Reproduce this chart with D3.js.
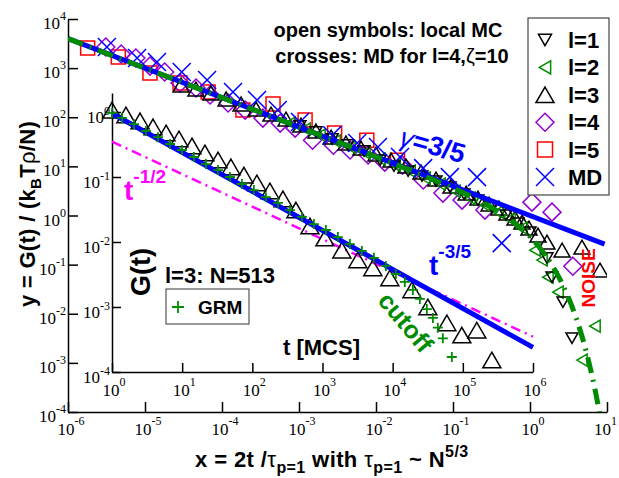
<!DOCTYPE html>
<html><head><meta charset="utf-8">
<script src="https://cdn.jsdelivr.net/npm/d3@7"></script>
<style>body{margin:0;background:#fff}svg{display:block}</style>
</head><body><svg id="c" width="619" height="478"></svg>
<script>
// ---------- data ----------
const mainXTicks = [1e-6,1e-5,1e-4,1e-3,1e-2,1e-1,1,10];
const mainXExp = ['-6','-5','-4','-3','-2','-1','0','1'];
const mainYTicks = [1e-4,1e-3,1e-2,1e-1,1,10,100,1e3,1e4];
const mainYExp = ['-4','-3','-2','-1','0','1','2','3','4'];
const insetXTicks = [1,10,100,1e3,1e4,1e5,1e6];
const insetXExp = ['0','1','2','3','4','5','6'];
const insetYTicks = [1e-4,1e-3,1e-2,1e-1,1];
const insetYExp = ['-4','-3','-2','-1','0'];

const l1X = [1.03e-3,1.66e-3,2.69e-3,4.32e-3,6.98e-3,0.0113,0.0171,0.0261,0.0395,0.0601,0.0914,0.139,0.211,0.321,0.488,0.698,1.0,1.66,1.93,2.68,3.51];
const l1Y = [66.2,50,36,27.2,20.5,13.4,10.1,8.02,6.34,5.02,3.78,2.73,2.06,1.48,1.02,0.70,0.459,0.136,0.0556,0.0172,0.00318];
const l2X = [7.64e-4,1.2e-3,1.87e-3,2.94e-3,4.59e-3,7.19e-3,0.0113,0.0177,0.0277,0.0433,0.0678,0.106,0.166,0.261,0.384,0.55,0.787,1.16,1.43,1.71,2.31,4.73,6.98];
const l2Y = [76.2,57.5,43.4,32.7,24.7,18.7,14.1,10.6,8.02,5.78,4.37,3.14,2.26,1.63,1.17,0.845,0.553,0.197,0.124,0.0556,0.0275,0.00114,0.00559];
const l3X = [2.94e-5,4.59e-5,7.19e-5,1.13e-4,1.77e-4,2.77e-4,4.33e-4,6.77e-4,1.06e-3,1.66e-3,2.61e-3,4.07e-3,6.38e-3,0.01,0.0157,0.0245,0.0384,0.0601,0.0942,0.148,0.211,0.294,0.395,0.502,0.638,0.787,0.97,1.27,1.66,2.61,4.73,8.11];
const l3Y = [453,375,311,235,186,147,116,91.8,69.3,52.4,39.5,29.9,23.6,17.8,13.4,10.1,7.66,5.51,3.97,2.86,2.26,1.71,1.42,1.12,0.885,0.734,0.553,0.399,0.287,0.197,0.227,0.0773];
const l4X = [3.1e-6,4.9e-6,7.6e-6,1.16e-5,1.8e-5,2.85e-5,4.6e-5,7.0e-5,1.2e-4,2.0e-4,3.4e-4,5.7e-4,8.9e-4,1.5e-3,2.8e-3,4.6e-3,7.9e-3,1.3e-2,2.2e-2,4.1e-2,7.4e-2,0.131,0.26,1.06,1.93,3.6];
const l4Y = [2690,1940,1610,1100,834,498,394,283,195,140,96,76,60,34,27,21.5,17,12.2,10.6,5.3,2.86,2.06,1.29,1.87,1.17,0.093];
const l5X = [1.8e-6,4.5e-6,1.16e-5,2.85e-5,6.6e-5,1.87e-4,4.6e-4,1.2e-3,2.9e-3,7.6e-3,1.9e-2];
const l5Y = [2560,1680,800,500,326,140,186,88,48,34,13.4];
const mdX = [3.2e-6,7.9e-6,1.43e-5,3.0e-5,6.4e-5,1.39e-4,2.85e-4,5.3e-4,1.03e-3,2.7e-3,5.7e-3,1.06e-2,2.05e-2,4.1e-2,9.1e-2,0.205,0.43];
const mdY = [2690,1610,1330,834,573,326,224,140,80,43,30,24.7,15.5,9.2,6.05,6.05,0.274];

const powX = [1e-6, 9.3];
const powY = [3981, 0.262];
const cutX = [1e-6,1e-4,1e-2,0.05,0.1,0.2,0.4,0.7,1,1.5,2,3,4,5,6,7,8];
const cutY = [3981,251,15.7,5.74,3.60,2.15,1.16,0.615,0.368,0.175,0.0893,0.0257,0.00797,0.00257,0.000845,0.000284,0.0000963];

const inPowX = [1, 1e6];
const inPowY = [0.95, 2.39e-4];
const inHalfX = [1, 1e6];
const inHalfY = [0.35, 3.5e-4];
const grmT = [1,1.39,2.06,3.05,4.52,6.7,9.9,14.7,21.8,32.4,48,71,105,156,232,343,509,754,1117,1656,2455,3640,5400,8000,11100,14900,19400,24400,30700,37400,44000,51900,69700];
const grmG = [0.966,0.81,0.65,0.51,0.41,0.322,0.26,0.203,0.158,0.128,0.1,0.078,0.063,0.049,0.040,0.031,0.0243,0.0189,0.0153,0.0119,0.0093,0.0073,0.0057,0.00428,0.00322,0.00243,0.00183,0.00133,0.00093,0.00068,0.00048,0.00033,0.00017];
const in3T = [1,1.58,2.51,3.84,5.9,9.0,13.8,21.1,32.4,49.5,75.9,116,178,273,418,662,1082,1888,3190,5220,9120,18800,31700,59200,96800,158000,259000];
const in3G = [1.07,0.90,0.73,0.59,0.475,0.385,0.30,0.234,0.183,0.143,0.107,0.081,0.061,0.046,0.031,0.0176,0.0115,0.0075,0.0053,0.004,0.0028,0.00183,0.001,0.00057,0.00037,0.00044,0.000153];

const legendLabels = ['l=1','l=2','l=3','l=4','l=5','MD'];

// ---------- setup ----------
const SANS = '"Liberation Sans", Arial, Helvetica, sans-serif';
const SERIF = '"Liberation Serif", "Times New Roman", serif';
const BLUE = '#0000ff', GREEN = '#008c00', RED = '#ff0000', PURPLE = '#9400d3', MAG = '#ff00ff';
const svg = d3.select('#c');

const x = d3.scaleLog().domain([1e-6, 10]).range([68, 607]);
const y = d3.scaleLog().domain([1e-4, 1e4]).range([412, 19]);
const ix = d3.scaleLog().domain([1, 1e6]).range([112, 533]);
const iy = d3.scaleLog().domain([1e-4, 1.96]).range([372, 93]);

function symPath(type, s) {
  const r = s / 2, h = s * 0.866;
  switch (type) {
    case 'up': return `M0,${-h/2}L${r},${h/2}L${-r},${h/2}Z`;
    case 'down': return `M0,${h/2}L${r},${-h/2}L${-r},${-h/2}Z`;
    case 'left': return `M${-h/2},0L${h/2},${-r}L${h/2},${r}Z`;
    case 'diamond': return `M0,${-r}L${r},0L0,${r}L${-r},0Z`;
    case 'square': return `M${-r},${-r}H${r}V${r}H${-r}Z`;
    case 'x': return `M${-r},${-r}L${r},${r}M${-r},${r}L${r},${-r}`;
    case 'plus': return `M${-r},0H${r}M0,${-r}V${r}`;
  }
}
function drawSeries(g, xs, ys, sx, sy, type, size, color, sw) {
  g.append('g').selectAll('path').data(xs.map((v, i) => [v, ys[i]])).join('path')
    .attr('d', symPath(type, size))
    .attr('transform', d => `translate(${sx(d[0])},${sy(d[1])})`)
    .attr('fill', 'none').attr('stroke', color).attr('stroke-width', sw || 1.5);
}

svg.append('defs').append('clipPath').attr('id', 'mclip')
  .append('rect').attr('x', 68).attr('y', 19).attr('width', 539).attr('height', 393);

// ---------- main axes ----------
function styleAxis(g) {
  g.selectAll('path.domain').attr('stroke', '#000').attr('stroke-width', 1.5);
  g.selectAll('.tick line').attr('stroke', '#000').attr('stroke-width', 1.5);
  g.selectAll('.tick text').remove();
}
const gx = svg.append('g').attr('transform', 'translate(0,412)')
  .call(d3.axisBottom(x).tickValues(mainXTicks).tickSizeInner(-10).tickSizeOuter(0).tickFormat(''));
styleAxis(gx);
const gy = svg.append('g').attr('transform', 'translate(68,0)')
  .call(d3.axisLeft(y).tickValues(mainYTicks).tickSizeInner(-10).tickSizeOuter(0).tickFormat(''));
styleAxis(gy);

function expLabel(px, py, exp, anchor, supDy) {
  const t = svg.append('text').attr('x', px).attr('y', py).attr('text-anchor', anchor)
    .style('font-family', SERIF).style('font-size', '17px').attr('fill', '#000');
  t.append('tspan').text('10');
  t.append('tspan').attr('dy', supDy).style('font-size', '12px').text(exp);
}
mainXTicks.forEach((v, i) => {
  const last = i === mainXTicks.length - 1;
  expLabel(last ? 617 : x(v) + 3, 435, mainXExp[i], last ? 'end' : 'middle', -10);
});
mainYTicks.forEach((v, i) => expLabel(66, y(v) + 10, mainYExp[i], 'end', -9));

// ---------- inset axes ----------
const gix = svg.append('g').attr('transform', 'translate(0,372)')
  .call(d3.axisBottom(ix).tickValues(insetXTicks).tickSizeInner(-9).tickSizeOuter(0).tickFormat(''));
styleAxis(gix);
const giy = svg.append('g').attr('transform', 'translate(112,0)')
  .call(d3.axisLeft(iy).tickValues(insetYTicks).tickSizeInner(-9).tickSizeOuter(0).tickFormat(''));
styleAxis(giy);
insetXTicks.forEach((v, i) => expLabel(ix(v) + 2, 396, insetXExp[i], 'middle', -10));
insetYTicks.forEach((v, i) => expLabel(110, iy(v) + 11, insetYExp[i], 'end', -8));

// ---------- main data ----------
const gm = svg.append('g').attr('clip-path', 'url(#mclip)');
drawSeries(gm, l5X, l5Y, x, y, 'square', 14, RED);
drawSeries(gm, l4X, l4Y, x, y, 'diamond', 18, PURPLE);
drawSeries(gm, l3X, l3Y, x, y, 'up', 16, '#000');
drawSeries(gm, l2X, l2Y, x, y, 'left', 12, GREEN);
drawSeries(gm, l1X, l1Y, x, y, 'down', 12, '#000');
drawSeries(gm, mdX, mdY, x, y, 'x', 18, BLUE);

const lineMain = d3.line().x(d => x(d[0])).y(d => y(d[1]));
gm.append('path').datum(powX.map((v, i) => [v, powY[i]])).attr('d', lineMain)
  .attr('fill', 'none').attr('stroke', BLUE).attr('stroke-width', 5);
gm.append('path').datum(cutX.map((v, i) => [v, cutY[i]]))
  .attr('d', d3.line().x(d => x(d[0])).y(d => y(d[1])).curve(d3.curveMonotoneX))
  .attr('fill', 'none').attr('stroke', GREEN).attr('stroke-width', 5)
  .attr('stroke-dasharray', '16,7,2,7');

// ---------- inset data ----------
const lineIn = d3.line().x(d => ix(d[0])).y(d => iy(d[1]));
svg.append('path').datum(inHalfX.map((v, i) => [v, inHalfY[i]])).attr('d', lineIn)
  .attr('fill', 'none').attr('stroke', MAG).attr('stroke-width', 2.5).attr('stroke-dasharray', '10,5,2,5');
drawSeries(svg, in3T, in3G, ix, iy, 'up', 18, '#000');
svg.append('path').datum(inPowX.map((v, i) => [v, inPowY[i]])).attr('d', lineIn)
  .attr('fill', 'none').attr('stroke', BLUE).attr('stroke-width', 5);
drawSeries(svg, grmT, grmG, ix, iy, 'plus', 10, GREEN, 1.8);

// ---------- texts ----------
function txt(px, py, s, size, color, anchor) {
  return svg.append('text').attr('x', px).attr('y', py).text(s)
    .style('font-family', SANS).style('font-weight', 'bold').style('font-size', size + 'px')
    .attr('fill', color || '#000').attr('text-anchor', anchor || 'start');
}
txt(388, 37, 'open symbols: local MC', 20, '#000', 'middle');
const t2 = svg.append('text').attr('x', 392).attr('y', 63).attr('text-anchor', 'middle')
  .style('font-family', SANS).style('font-weight', 'bold').style('font-size', '20px');
t2.append('tspan').text('crosses: MD for l=4,');
t2.append('tspan').style('font-weight', 'normal').text('ζ');
t2.append('tspan').text('=10');

// legend
svg.append('rect').attr('x', 528).attr('y', 18).attr('width', 81).attr('height', 177)
  .attr('fill', '#fff').attr('stroke', '#444').attr('stroke-width', 1.2);
const legSym = [['down', 13, '#000'], ['left', 13, GREEN], ['up', 18, '#000'], ['diamond', 18, PURPLE], ['square', 15, RED], ['x', 18, BLUE]];
legendLabels.forEach((lab, i) => {
  const cy = 40 + i * 27.4;
  svg.append('path').attr('d', symPath(legSym[i][0], legSym[i][1]))
    .attr('transform', `translate(545,${cy})`).attr('fill', 'none')
    .attr('stroke', legSym[i][2]).attr('stroke-width', 1.5);
  txt(568, cy + 8, lab, 22, '#000', 'start');
});

// gamma label
const tg = svg.append('text').attr('transform', 'translate(398,145) rotate(16)')
  .style('font-family', SANS).style('font-weight', 'bold').style('font-size', '27px').attr('fill', BLUE);
tg.append('tspan').style('font-weight', 'normal').style('font-style', 'italic').text('γ');
tg.append('tspan').text('=3/5');

// t^-1/2
const th = svg.append('text').attr('x', 124).attr('y', 200)
  .style('font-family', SANS).style('font-weight', 'bold').style('font-size', '28px').attr('fill', MAG);
th.append('tspan').text('t');
th.append('tspan').attr('dy', -17).style('font-size', '19px').text('-1/2');
// t^-3/5
const tf = svg.append('text').attr('x', 429).attr('y', 275)
  .style('font-family', SANS).style('font-weight', 'bold').style('font-size', '28px').attr('fill', BLUE);
tf.append('tspan').text('t');
tf.append('tspan').attr('dy', -17).style('font-size', '19px').text('-3/5');

// cutoff
svg.append('text').attr('transform', 'translate(406,322) rotate(50)').attr('text-anchor', 'middle')
  .attr('dominant-baseline', 'central')
  .style('font-family', SANS).style('font-weight', 'bold').style('font-size', '25px').attr('fill', GREEN).text('cutoff');
// NOISE
svg.append('text').attr('transform', 'translate(588,278) rotate(-90)').attr('text-anchor', 'middle')
  .attr('dominant-baseline', 'central')
  .style('font-family', SANS).style('font-weight', 'bold').style('font-size', '19px').attr('fill', RED).text('NOISE');

// inset labels
svg.append('text').attr('transform', 'translate(150,272) rotate(-90)').attr('text-anchor', 'middle')
  .style('font-family', SANS).style('font-weight', 'bold').style('font-size', '27px').text('G(t)');
txt(283, 355, 't [MCS]', 22, '#000', 'start');
txt(165, 283, 'l=3: N=513', 22, '#000', 'start');
svg.append('rect').attr('x', 166).attr('y', 289).attr('width', 83).attr('height', 35)
  .attr('fill', 'none').attr('stroke', '#555').attr('stroke-width', 1.2);
svg.append('path').attr('d', symPath('plus', 12)).attr('transform', 'translate(178,307)')
  .attr('stroke', GREEN).attr('stroke-width', 1.8).attr('fill', 'none');
txt(198, 314, 'GRM', 19, '#000', 'start');

// axis titles
const xl = svg.append('text').attr('x', 195).attr('y', 467)
  .style('font-family', SANS).style('font-weight', 'bold').style('font-size', '22px').style('letter-spacing', '0.4px');
xl.append('tspan').text('x = 2t /');
xl.append('tspan').style('font-weight', 'normal').text('τ');
xl.append('tspan').attr('dy', 6).style('font-size', '16px').text('p=1');
xl.append('tspan').attr('dy', -6).text(' with ');
xl.append('tspan').style('font-weight', 'normal').text('τ');
xl.append('tspan').attr('dy', 6).style('font-size', '16px').text('p=1');
xl.append('tspan').attr('dy', -6).text(' ~ N');
xl.append('tspan').attr('dy', -10).style('font-size', '16px').text('5/3');

const yl = svg.append('text').attr('transform', 'translate(35,214) rotate(-90)').attr('text-anchor', 'middle')
  .style('font-family', SANS).style('font-weight', 'bold').style('font-size', '22px').style('letter-spacing', '0.3px');
yl.append('tspan').text('y = G(t) / (k');
yl.append('tspan').attr('dy', 6).style('font-size', '15px').text('B');
yl.append('tspan').attr('dy', -6).text('T');
yl.append('tspan').style('font-weight', 'normal').text('ρ');
yl.append('tspan').text('/N)');
</script></body></html>
